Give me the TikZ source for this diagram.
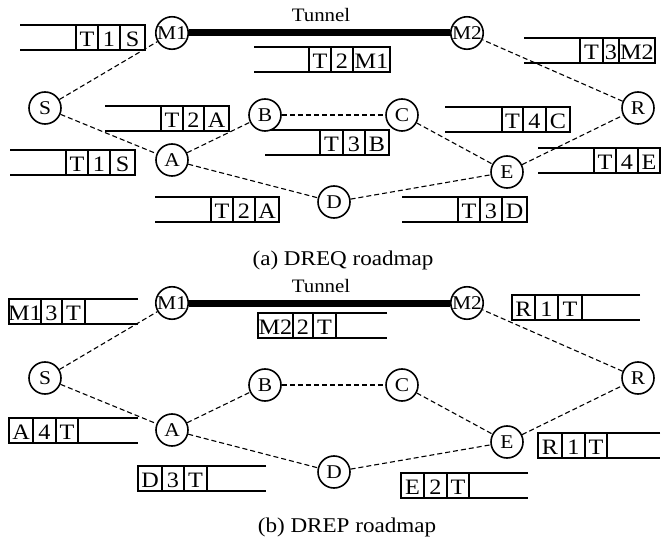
\documentclass[tikz,border=0pt]{standalone}
\usepackage{fontspec}
\setmainfont{Liberation Serif}
\newfontfamily\figfont[FakeStretch=1.1]{Liberation Serif}
% Packet buffer, open on the left, closed on the right:
% #1 left end, #2-#4 dividers, #5 right edge, #6 top, #7-#9 cell labels
\newcommand\reqbox[9]{%
  \draw[cell] (#1,#6) -- (#5,#6) -- (#5,#6+25) -- (#1,#6+25);
  \draw[cell] (#2,#6) -- (#2,#6+25) (#3,#6) -- (#3,#6+25) (#4,#6) -- (#4,#6+25);
  \node[celltext] at ({(#2+#3)/2},#6+21.5) {#7};
  \node[celltext] at ({(#3+#4)/2},#6+21.5) {#8};
  \node[celltext] at ({(#4+#5)/2},#6+21.5) {#9};
}
% Packet buffer, closed on the left, open on the right
\newcommand\repbox[9]{%
  \draw[cell] (#5,#6) -- (#1,#6) -- (#1,#6+25) -- (#5,#6+25);
  \draw[cell] (#2,#6) -- (#2,#6+25) (#3,#6) -- (#3,#6+25) (#4,#6) -- (#4,#6+25);
  \node[celltext] at ({(#1+#2)/2},#6+21.5) {#7};
  \node[celltext] at ({(#2+#3)/2},#6+21.5) {#8};
  \node[celltext] at ({(#3+#4)/2},#6+21.5) {#9};
}
\begin{document}
\begin{tikzpicture}[x=1pt,y=-1pt,
  rnode/.style={circle,draw,fill=white,line width=1.6pt,minimum size=32pt,
    inner sep=0pt,font=\figfont\fontsize{19.5}{19.5}\selectfont},
  link/.style={dash pattern=on 5pt off 3pt,line width=1.1pt},
  tunnel/.style={line width=7pt},
  cell/.style={line width=1.1pt},
  celltext/.style={font=\figfont\fontsize{22}{22}\selectfont,inner sep=0pt,anchor=base},
  label/.style={font=\figfont\fontsize{19}{19}\selectfont,inner sep=0pt,anchor=base},
  caption/.style={font=\figfont\fontsize{21}{21}\selectfont,inner sep=0pt,anchor=base}]
\useasboundingbox (0,0) rectangle (661,537);

% ---------------- (a) DREQ roadmap ----------------
\reqbox{20}{76}{98}{120}{145}{25}{T}{1}{S}
\reqbox{254}{309}{331}{353}{390}{47}{T}{2}{M1}
\reqbox{524}{580}{603}{619}{655}{38}{T}{3}{M2}
\reqbox{105}{161}{183}{204}{229}{106}{T}{2}{A}
\reqbox{445}{502}{523}{546}{570}{107}{T}{4}{C}
\reqbox{265}{320}{343}{365}{389}{130}{T}{3}{B}
\reqbox{10}{66}{88}{110}{135}{150}{T}{1}{S}
\reqbox{155}{211}{233}{255}{279}{197}{T}{2}{A}
\reqbox{538}{594}{616}{638}{660}{148}{T}{4}{E}
\reqbox{402}{458}{480}{502}{527}{197}{T}{3}{D}

\node[rnode] (M1a) at (172,33) {M1};
\node[rnode] (M2a) at (467,33) {M2};
\node[rnode] (Sa) at (45,108) {S};
\node[rnode] (Ba) at (265,115) {B};
\node[rnode] (Ca) at (402,115) {C};
\node[rnode] (Ra) at (638,108) {R};
\node[rnode] (Aa) at (172,160) {A};
\node[rnode] (Da) at (334,202) {D};
\node[rnode] (Ea) at (507,172) {E};

\draw[tunnel] (M1a) -- (M2a);
\draw[link] (Sa) -- (M1a);
\draw[link] (Sa) -- (Aa);
\draw[link] (Aa) -- (Ba);
\draw[link] (Ba) -- (Ca);
\draw[link] (Aa) -- (Da);
\draw[link] (Ca) -- (Ea);
\draw[link] (Da) -- (Ea);
\draw[link] (Ea) -- (Ra);
\draw[link] (Ra) -- (M2a);

\node[label] (tuna) at (321,22) {Tunnel};
\node[caption] (capa) at (343,266) {(a) DREQ roadmap};

% ---------------- (b) DREP roadmap ----------------
\repbox{9}{41}{62}{85}{138}{299}{M1}{3}{T}
\repbox{258}{293}{313}{336}{387}{313}{M2}{2}{T}
\repbox{512}{535}{558}{582}{640}{295}{R}{1}{T}
\repbox{9}{33}{56}{78}{138}{418}{A}{4}{T}
\repbox{138}{162}{184}{207}{266}{466}{D}{3}{T}
\repbox{538}{562}{585}{607}{660}{433}{R}{1}{T}
\repbox{401}{424}{447}{469}{528}{473}{E}{2}{T}

\node[rnode] (M1b) at (172,303) {M1};
\node[rnode] (M2b) at (467,303) {M2};
\node[rnode] (Sb) at (45,378) {S};
\node[rnode] (Bb) at (265,385) {B};
\node[rnode] (Cb) at (402,385) {C};
\node[rnode] (Rb) at (638,378) {R};
\node[rnode] (Ab) at (172,430) {A};
\node[rnode] (Db) at (334,472) {D};
\node[rnode] (Eb) at (507,442) {E};

\draw[tunnel] (M1b) -- (M2b);
\draw[link] (Sb) -- (M1b);
\draw[link] (Sb) -- (Ab);
\draw[link] (Ab) -- (Bb);
\draw[link] (Bb) -- (Cb);
\draw[link] (Ab) -- (Db);
\draw[link] (Cb) -- (Eb);
\draw[link] (Db) -- (Eb);
\draw[link] (Eb) -- (Rb);
\draw[link] (Rb) -- (M2b);

\node[label] (tunb) at (321,292) {Tunnel};
\node[caption] (capb) at (347,532) {(b) DREP roadmap};
\end{tikzpicture}
\end{document}
